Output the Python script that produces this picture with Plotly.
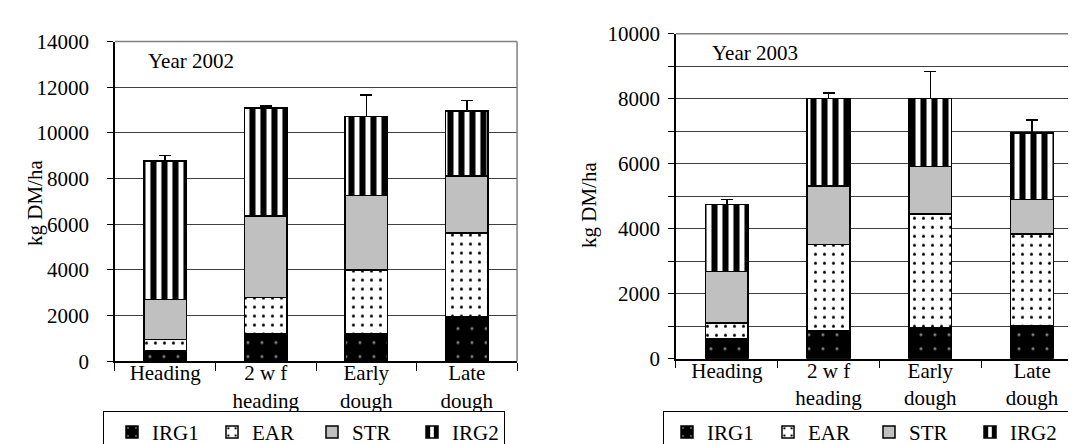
import plotly.graph_objects as go

# ---------------- data ----------------
stages = ["Heading", "2 w f<br>heading", "Early<br>dough", "Late<br>dough"]
series_names = ["IRG1", "EAR", "STR", "IRG2"]

# Year 2002 (kg DM/ha)
irg1_2002 = [480, 1200, 1200, 1930]
ear_2002 = [470, 1600, 2800, 3690]
str_2002 = [1750, 3560, 3260, 2490]
irg2_2002 = [6070, 4720, 3450, 2840]
err_2002 = [250, 100, 950, 460]

# Year 2003 (kg DM/ha)
irg1_2003 = [600, 870, 950, 1000]
ear_2003 = [500, 2650, 3500, 2840]
str_2003 = [1590, 1800, 1460, 1060]
irg2_2003 = [2060, 2680, 2090, 2040]
err_2003 = [150, 170, 840, 410]

y_ticks_2002 = [0, 2000, 4000, 6000, 8000, 10000, 12000, 14000]
y_ticks_2003 = [0, 2000, 4000, 6000, 8000, 10000]

FONT = "Liberation Serif, Times New Roman, serif"

styles = {
    "IRG1": dict(color="black", pattern=dict(shape=".", bgcolor="black", fgcolor="white", size=14, solidity=0.04)),
    "EAR": dict(color="white", pattern=dict(shape=".", bgcolor="white", fgcolor="black", fgopacity=1,
                                            size=9, solidity=0.09)),
    "STR": dict(color="#c0c0c0"),
    "IRG2": dict(color="white", pattern=dict(shape="|", bgcolor="white", fgcolor="black", fgopacity=1,
                                             size=11, solidity=0.55)),
}

fig = go.Figure()

def add_year(values, errs, xa, ya, legend):
    for name, vals in zip(series_names, values):
        st = styles[name]
        marker = dict(color=st["color"], line=dict(color="black", width=1.5))
        if "pattern" in st:
            marker["pattern"] = st["pattern"]
        kw = {}
        if name == "IRG2":
            kw["error_y"] = dict(type="data", array=errs, arrayminus=[0] * len(errs),
                                 symmetric=False, color="black", thickness=1.5, width=6)
        fig.add_trace(go.Bar(x=stages, y=vals, name=name, marker=marker, width=0.42,
                             xaxis=xa, yaxis=ya, legend=legend, **kw))

add_year([irg1_2002, ear_2002, str_2002, irg2_2002], err_2002, "x", "y", "legend")
add_year([irg1_2003, ear_2003, str_2003, irg2_2003], err_2003, "x2", "y2", "legend2")

tickfont = dict(family=FONT, size=21, color="black")
xcommon = dict(type="category", showgrid=False, showline=True, linecolor="black", linewidth=1.5,
               ticks="outside", ticklen=8, tickcolor="black", tickson="boundaries",
               tickangle=0, automargin=False, tickfont=tickfont, ticklabelstandoff=-8)
ycommon = dict(showline=True, linecolor="black", linewidth=1.5, ticks="outside", ticklen=6,
               tickcolor="black", gridcolor="#404040", gridwidth=1, zeroline=False,
               automargin=False, tickfont=tickfont)

legcommon = dict(orientation="h", xanchor="left", yanchor="bottom", bgcolor="white",
                 bordercolor="black", borderwidth=1, entrywidthmode="pixels",
                 font=tickfont, traceorder="normal", itemclick=False)

fig.update_layout(
    width=1076, height=444, margin=dict(l=0, r=0, t=0, b=0, autoexpand=False),
    paper_bgcolor="white", plot_bgcolor="white", barmode="stack",
    font=dict(family=FONT, size=21, color="black"),
    xaxis=dict(domain=[0.0994, 0.4731], anchor="y", **xcommon),
    yaxis=dict(domain=[0.2043, 0.9245], anchor="x", range=[0, 14000], ticklabelstandoff=14,
               tickvals=y_ticks_2002, ticktext=[str(v) for v in y_ticks_2002], **ycommon),
    xaxis2=dict(domain=[0.6208, 0.999], anchor="y2", **xcommon),
    yaxis2=dict(domain=[0.2101, 0.9421], anchor="x2", range=[0, 10000], ticklabelstandoff=4,
                tickvals=y_ticks_2003, ticktext=[str(v) for v in y_ticks_2003],
                minor=dict(dtick=1000, showgrid=True, gridcolor="#404040", ticks="outside",
                           ticklen=6, tickcolor="black"), **ycommon),
    legend=dict(x=95 / 1076, y=-0.004, entrywidth=47, indentation=8, **legcommon),
    legend2=dict(x=655 / 1076, y=-0.004, entrywidth=53, indentation=3, **legcommon),
    annotations=[
        dict(text="Year 2002", xref="paper", yref="paper", x=138 / 1076, y=1 - 53 / 444,
             xanchor="left", yanchor="middle", showarrow=False, font=tickfont),
        dict(text="Year 2003", xref="paper", yref="paper", x=702 / 1076, y=1 - 45 / 444,
             xanchor="left", yanchor="middle", showarrow=False, font=tickfont),
        dict(text="kg DM/ha", xref="paper", yref="paper", x=27 / 1076, y=1 - 195 / 444,
             xanchor="center", yanchor="middle", textangle=-90, showarrow=False, font=tickfont),
        dict(text="kg DM/ha", xref="paper", yref="paper", x=581 / 1076, y=1 - 197 / 444,
             xanchor="center", yanchor="middle", textangle=-90, showarrow=False, font=tickfont),
    ],
    shapes=[
        dict(type="line", xref="x domain", yref="y domain", x0=0, x1=1, y0=1, y1=1,
             line=dict(color="#808080", width=1.5)),
        dict(type="line", xref="x domain", yref="y domain", x0=1, x1=1, y0=0, y1=1,
             line=dict(color="#808080", width=1.5)),
        dict(type="line", xref="x2 domain", yref="y2 domain", x0=0, x1=1, y0=1, y1=1,
             line=dict(color="#808080", width=1.5)),
    ],
)

fig.write_html("out.html")
